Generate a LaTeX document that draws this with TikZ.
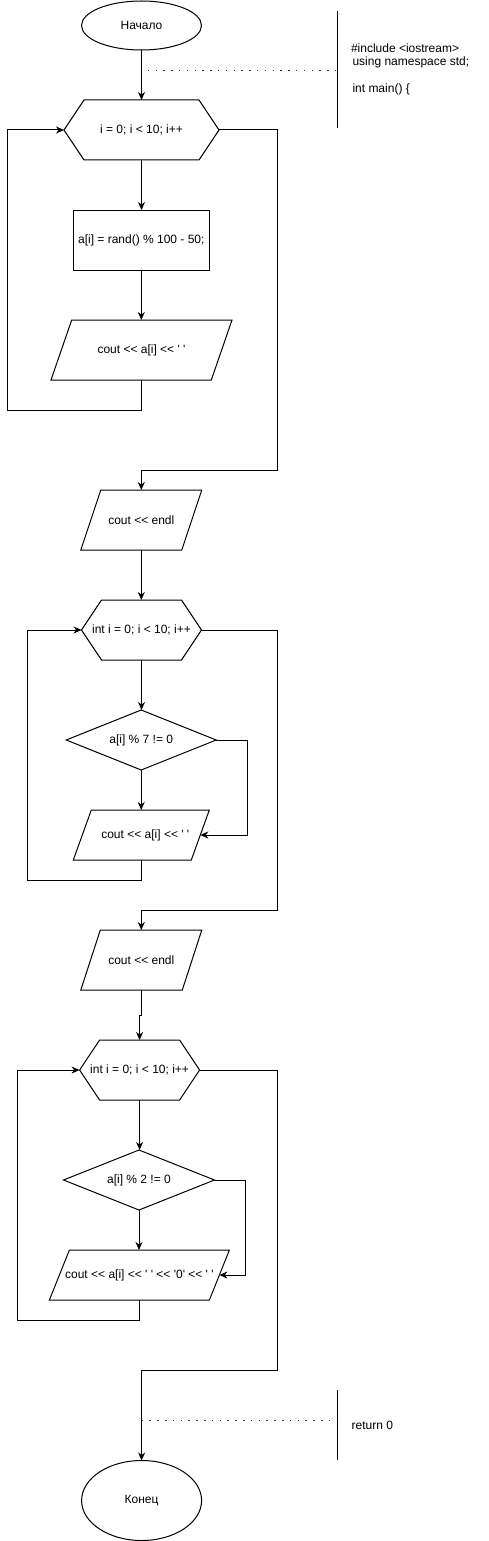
\documentclass[tikz,border=0pt]{standalone}
\usepackage{fontspec}
\newfontfamily\dfont{Liberation Sans}
\usetikzlibrary{arrows.meta,shapes.geometric}
\newcommand\hexout[2]{\draw[shapeline] (#1.west) -- ([xshift=#2]#1.north west) -- ([xshift=-#2]#1.north east) -- (#1.east) -- ([xshift=-#2]#1.south east) -- ([xshift=#2]#1.south west) -- cycle;}
\newcommand\paraout[2]{\draw[shapeline] (#1.south west) -- ([xshift=#2]#1.north west) -- (#1.north east) -- ([xshift=-#2]#1.south east) -- cycle;}
\newcommand\diaout[1]{\draw[shapeline] (#1.west) -- (#1.north) -- (#1.east) -- (#1.south) -- cycle;}
\begin{document}
\begin{tikzpicture}[x=1pt,y=-1pt,
  every node/.style={font=\dfont\fontsize{12}{14}\selectfont},
  shapeline/.style={line width=1pt, line join=miter},
  area/.style={rectangle, inner sep=0pt, outer sep=0pt, minimum width=#1},
  oval/.style={ellipse, draw, line width=1pt, inner sep=0pt, outer sep=0pt, minimum width=120pt},
  arr/.style={line width=1pt, -{Stealth[length=8pt,width=7pt,inset=2.5pt]}},
  conn/.style={line width=1pt},
  dotline/.style={line width=1.5pt, dash pattern=on 1.5pt off 6.3pt, black!80},
  txt/.style={inner sep=0pt, outer sep=0pt}
]
\fill[white] (0,0) rectangle (488,1541);
\useasboundingbox (0,0) rectangle (488,1541);

% nodes
\node[oval, minimum height=49pt] (start) at (141.5,25.5) {Начало};
\node[area=155pt, minimum height=60pt] (h1) at (141.5,130) {i = 0; i < 10; i++};
\node[area=136pt, minimum height=60pt, draw, line width=1pt] (r1) at (141.3,240) {a[i] = rand() \% 100 - 50;};
\node[area=181pt, minimum height=60pt] (p1) at (141.5,350) {cout << a[i] << ' '};
\node[area=121pt, minimum height=60pt] (p2) at (141.3,520) {cout << endl};
\node[area=120pt, minimum height=60pt] (h2) at (141.5,630) {int i = 0; i < 10; i++};
\node[area=150pt, minimum height=60pt] (d1) at (141.2,740) {a[i] \% 7 != 0};
\node[area=136pt, minimum height=50pt] (p3) at (141.3,835) {\hspace*{8pt}cout << a[i] << ' '};
\node[area=121pt, minimum height=60pt] (p4) at (141.3,960) {cout << endl};
\node[area=120pt, minimum height=60pt] (h3) at (139.6,1070) {int i = 0; i < 10; i++};
\node[area=151pt, minimum height=60pt] (d2) at (139,1180) {a[i] \% 2 != 0};
\node[area=180pt, minimum height=50pt] (p5) at (139.4,1275) {cout << a[i] << ' ' << '0' << ' '};
\node[oval, minimum height=80pt] (end) at (141.6,1500.5) {Конец};

% outlines
\hexout{h1}{20}
\paraout{p1}{20.7}
\paraout{p2}{20}
\hexout{h2}{20}
\diaout{d1}
\paraout{p3}{18}
\paraout{p4}{19.5}
\hexout{h3}{20}
\diaout{d2}
\paraout{p5}{20}

% main flow
\draw[arr] (start.south) -- (start.south |- h1.north);
\draw[arr] (h1.south) -- (h1.south |- r1.north);
\draw[arr] (r1.south) -- (r1.south |- p1.north);
\draw[arr] (p1.south) -- ++(0,30) -- ++(-134.2,0) |- (h1.west);
\draw[arr] (h1.east) -- ++(58.3,0) -- ++(0,340) -| (p2.north);
\draw[arr] (p2.south) -- (p2.south |- h2.north);
\draw[arr] (h2.south) -- (h2.south |- d1.north);
\draw[arr] (d1.south) -- (d1.south |- p3.north);
\draw[arr] (d1.east) -- ++(31.4,0) |- ([xshift=-9]p3.east);
\draw[arr] (p3.south) -- ++(0,20) -- ++(-114,0) |- (h2.west);
\draw[arr] (h2.east) -- ++(75.8,0) -- ++(0,280) -| (p4.north);
\draw[arr] (p4.south) -- ++(0,25) -| (h3.north);
\draw[arr] (h3.south) -- (h3.south |- d2.north);
\draw[arr] (d2.south) -- (d2.south |- p5.north);
\draw[arr] (d2.east) -- ++(31.2,0) |- ([xshift=-10]p5.east);
\draw[arr] (p5.south) -- ++(0,20) -- ++(-122.1,0) |- (h3.west);
\draw[arr] (h3.east) -- ++(77.7,0) -- ++(0,300.7) -| (end.north);

% annotations
\node[area=0pt, minimum height=117pt] (br1) at (337.5,70) {};
\draw[conn] (br1.north) -- (br1.south);
\coordinate (a1) at (147.7,70.7);
\draw[dotline] (a1) -- (br1.west |- a1);
\node[txt, anchor=west] (l1) at (351,48.5) {\#include <iostream>};
\node[txt, anchor=west] (l2) at (352.5,62.5) {using namespace std;};
\node[txt, anchor=west] (l3) at (352.5,89) {int main() \{};

\node[area=0pt, minimum height=70pt] (br2) at (337.3,1425) {};
\draw[conn] (br2.north) -- (br2.south);
\coordinate (a2) at (141.6,1420.7);
\draw[dotline] (a2) -- (br2.west |- a2);
\node[txt, anchor=west] (ret) at (351.7,1425) {return 0};
\end{tikzpicture}
\end{document}
